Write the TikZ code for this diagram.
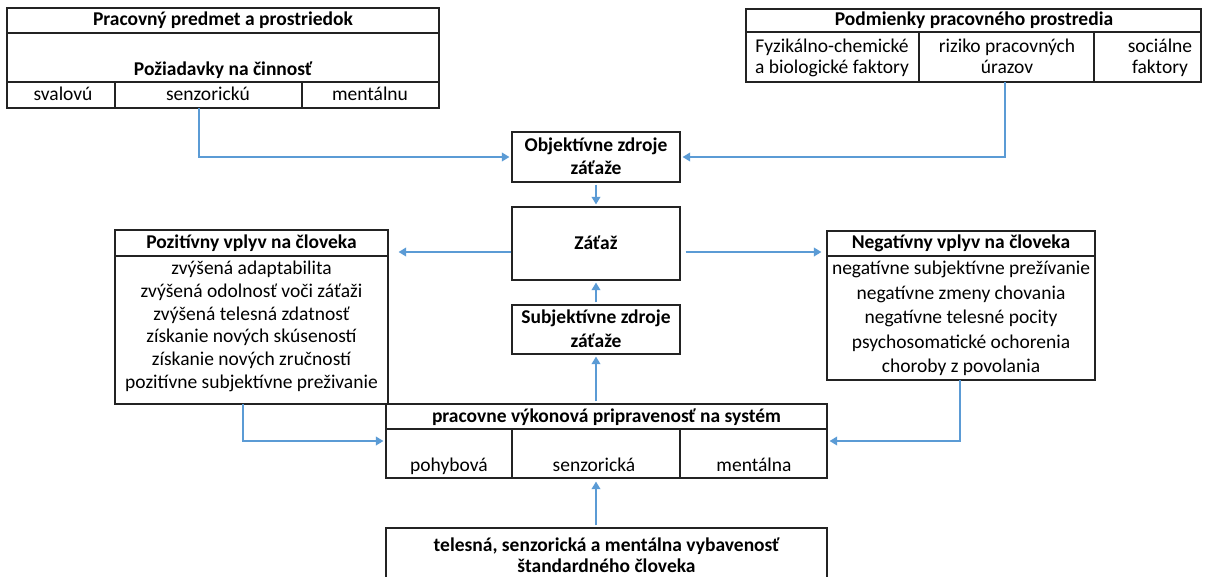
\documentclass[tikz,border=0pt]{standalone}
\usepackage{fontspec}
\setmainfont{Carlito}
\usepackage{tikz}
\usetikzlibrary{arrows.meta}
\definecolor{arrowblue}{RGB}{91,155,213}
\definecolor{boxline}{RGB}{35,35,35}

\begin{document}
\begin{tikzpicture}[x=1pt,y=-1pt,
    box/.style={draw=boxline,line width=1.1pt,inner sep=0pt},
    rule/.style={draw=boxline,line width=1.1pt},
    txt/.style={font=\fontsize{19.5}{23}\selectfont,inner sep=0pt,text height=13pt,text depth=4pt},
    head/.style={txt,font=\fontsize{19.5}{23}\selectfont\bfseries},
    arr/.style={draw=arrowblue,line width=1.8pt,-{Triangle[width=8.5pt,length=7.5pt]},shorten >=2pt}]
    \useasboundingbox (0,0) rectangle (1207,576);
    \clip (0,0) rectangle (1207,576);

    % upper tables
    \node[box,minimum width=432pt,minimum height=100pt] (predmet) at (223,58) {};
    \draw[rule] (7,33) -- (439,33) (7,82) -- (439,82) (115,82) -- (115,108) (302,82) -- (302,108);
    \node[head] (predmetH) at (223,21) {Pracovný predmet a prostriedok};
    \node[head] (poziad) at (223,71) {Požiadavky na činnosť};
    \node[txt] (sval) at (63,96) {svalovú};
    \node[txt] (senzu) at (208,96) {senzorickú};
    \node[txt] (mentu) at (370,96) {mentálnu};

    \node[box,minimum width=455pt,minimum height=73pt] (prostr) at (973.5,45.5) {};
    \draw[rule] (746,32) -- (1201,32) (919,32) -- (919,82) (1094,32) -- (1094,82);
    \node[head] (prostrH) at (974,21) {Podmienky pracovného prostredia};
    \node[txt] (fyz1) at (832,48) {Fyzikálno-chemické};
    \node[txt] (fyz2) at (832,69) {a biologické faktory};
    \node[txt] (riz1) at (1007,48) {riziko pracovných};
    \node[txt] (riz2) at (1007,69) {úrazov};
    \node[txt] (soc1) at (1160,48) {sociálne};
    \node[txt] (soc2) at (1160,69) {faktory};

    % middle column
    \node[box,minimum width=168pt,minimum height=50pt] (obj) at (596,157) {};
    \node[head] (obj1) at (596,147) {Objektívne zdroje};
    \node[head] (obj2) at (596,170) {záťaže};
    \node[box,minimum width=168pt,minimum height=73pt] (zataz) at (596,243.5) {};
    \node[head] (zatazT) at (596,245) {Záťaž};
    \node[box,minimum width=168pt,minimum height=49pt] (subj) at (596,329.5) {};
    \node[head] (subj1) at (596,319) {Subjektívne zdroje};
    \node[head] (subj2) at (596,343) {záťaže};

    % side boxes
    \node[box,minimum width=273pt,minimum height=174pt] (poz) at (251.5,317) {};
    \draw[rule] (115,256) -- (388,256);
    \node[head] (pozH) at (251.5,244) {Pozitívny vplyv na človeka};
    \foreach \t [count=\i from 0] in {zvýšená adaptabilita,zvýšená odolnosť voči záťaži,
        zvýšená telesná zdatnosť,získanie nových skúseností,získanie nových zručností,
        pozitívne subjektívne preživanie}
        \node[txt] (poz\i) at (251.5,270+22.8*\i) {\t};

    \node[box,minimum width=268pt,minimum height=149pt] (neg) at (961,305.5) {};
    \draw[rule] (827,256) -- (1095,256);
    \node[head] (negH) at (961,244) {Negatívny vplyv na človeka};
    \foreach \t [count=\i from 0] in {negatívne subjektívne prežívanie,negatívne zmeny chovania,
        negatívne telesné pocity,psychosomatické ochorenia,choroby z povolania}
        \node[txt] (neg\i) at (961,270+24.5*\i) {\t};

    % lower tables
    \node[box,minimum width=441pt,minimum height=74pt] (pripr) at (606.5,441) {};
    \draw[rule] (386,429) -- (827,429) (512,429) -- (512,478) (680,429) -- (680,478);
    \node[head] (priprH) at (606.5,418) {pracovne výkonová pripravenosť na systém};
    \node[txt] (pohyb) at (449,467) {pohybová};
    \node[txt] (senza) at (594,467) {senzorická};
    \node[txt] (menta) at (754,467) {mentálna};

    \node[box,minimum width=441pt,minimum height=72pt] (vybav) at (606.5,564) {};
    \node[head] (vybav1) at (606.5,547) {telesná, senzorická a mentálna vybavenosť};
    \node[head] (vybav2) at (606.5,568) {štandardného človeka};

    % arrows
    \coordinate (c1) at (199,108);
    \coordinate (c2) at (1005,82);
    \coordinate (c3) at (243,404);
    \coordinate (c4) at (960,380);
    \coordinate (zl) at ([yshift=-8.5pt]zataz.west);
    \coordinate (zr) at ([yshift=-8.5pt]zataz.east);
    \draw[arr] (c1) |- (obj.west);
    \draw[arr] (c2) |- (obj.east);
    \draw[arr,shorten <=2pt] (obj.south) -- (zataz.north);
    \draw[arr,shorten >=10pt] (zl) -- (zl -| poz.east);
    \draw[arr,shorten <=5pt,shorten >=5pt] (zr) -- (zr -| neg.west);
    \draw[arr,shorten <=2pt] (subj.north) -- (zataz.south);
    \draw[arr,shorten <=2pt] (subj.south |- pripr.north) -- (subj.south);
    \draw[arr,shorten <=2pt,shorten >=3pt] (subj.south |- vybav.north) -- (subj.south |- pripr.south);
    \draw[arr] (c3) |- (pripr.west);
    \draw[arr] (c4) |- (pripr.east);
\end{tikzpicture}
\end{document}
